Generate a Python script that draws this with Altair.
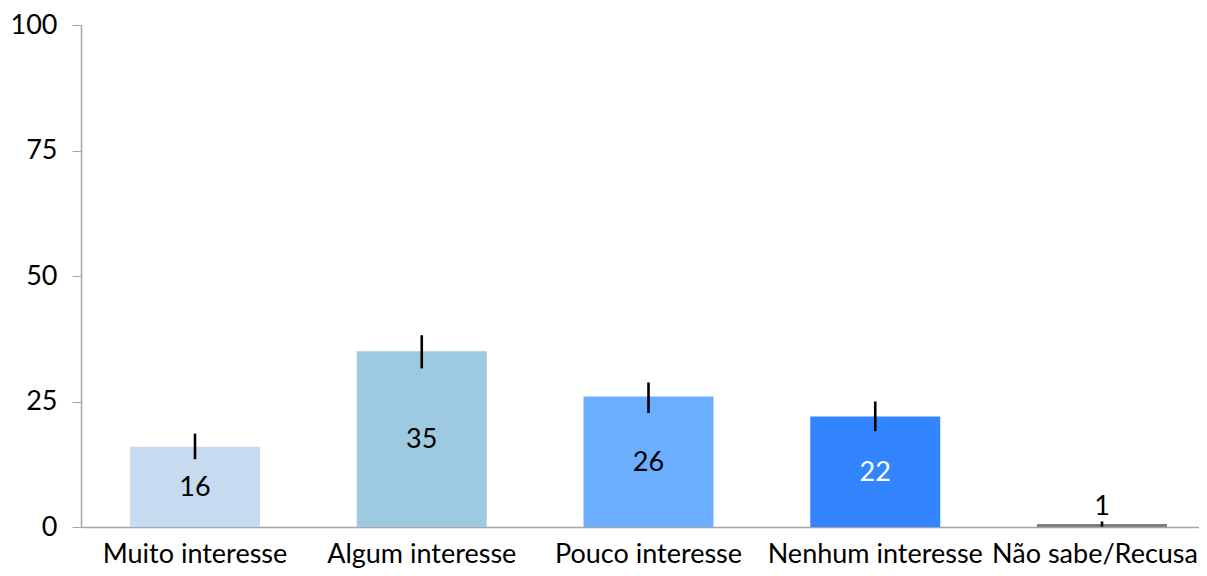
import altair as alt
import pandas as pd

categories = ["Muito interesse", "Algum interesse", "Pouco interesse", "Nenhum interesse", "Não sabe/Recusa"]
values = [16.0, 35.0, 26.0, 22.0, 0.6]
err_low = [13.5, 31.6, 22.7, 19.1, 0.1]
err_high = [18.6, 38.2, 28.8, 25.0, 1.1]
colors = ["#c6dbef", "#9ecae1", "#6baeff", "#3385ff", "#808080"]
text_colors = ["black", "black", "black", "white", "black"]
y_ticks = [0, 25, 50, 75, 100]

df = pd.DataFrame({
    "cat": categories,
    "v": values,
    "lo": err_low,
    "hi": err_high,
    "col": colors,
    "tcol": text_colors,
})

FONT = "Lato"
FS = 27

x = alt.X("cat:N", sort=categories, title=None,
          scale=alt.Scale(paddingInner=0.4267, paddingOuter=0.1786, align=0.605),
          axis=alt.Axis(labelAngle=0, labelFontSize=FS, labelFont=FONT, labelColor="black",
                        labelLimit=400, ticks=False, labelPadding=35, labelBaseline="alphabetic",
                        labelOffset={"condition": {"test": "datum.value === 'Não sabe/Recusa'", "value": -7},
                                     "value": 0},
                        domainColor="#a6a6a6", domainWidth=1.5))
y_scale = alt.Scale(domain=[0, 100], nice=False)

base = alt.Chart(df)

bars = base.mark_bar().encode(
    x=x,
    y=alt.Y("v:Q", scale=y_scale, title=None,
            axis=alt.Axis(values=y_ticks, grid=False, labelFontSize=FS, labelFont=FONT,
                          labelColor="black", tickSize=9, tickColor="#a6a6a6",
                          domainColor="#a6a6a6", domainWidth=1.5, labelPadding=15)),
    color=alt.Color("col:N", scale=None),
)

errs = base.mark_rule(color="black", strokeWidth=2.6).encode(
    x=alt.X("cat:N", sort=categories),
    y=alt.Y("lo:Q", scale=y_scale),
    y2="hi:Q",
)

labels_in = base.transform_filter("datum.v >= 5").transform_calculate(
    mid="datum.v / 2"
).mark_text(font=FONT, fontSize=FS, baseline="middle", dy=1).encode(
    x=alt.X("cat:N", sort=categories),
    y=alt.Y("mid:Q", scale=y_scale),
    text=alt.Text("v:Q", format=".0f"),
    color=alt.Color("tcol:N", scale=None),
)

labels_out = base.transform_filter("datum.v < 5").mark_text(
    font=FONT, fontSize=FS, baseline="alphabetic", dy=-9
).encode(
    x=alt.X("cat:N", sort=categories),
    y=alt.Y("v:Q", scale=y_scale),
    text=alt.Text("v:Q", format=".0f"),
    color=alt.Color("tcol:N", scale=None),
)

chart = alt.layer(bars, errs, labels_in, labels_out).properties(
    width=1118,
    height=502,
    autosize=alt.AutoSizeParams(type="none"),
    padding={"left": 73, "top": 17, "right": 0, "bottom": 41},
).configure_view(stroke=None)

chart.save("out.html", embed_options={"renderer": "svg", "actions": False})
